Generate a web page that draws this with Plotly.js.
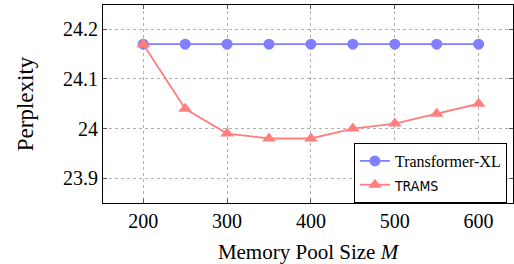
<!DOCTYPE html>
<html>
<head>
<meta charset="utf-8">
<script src="https://cdn.plot.ly/plotly-3.0.1.min.js"></script>
<style>html,body{margin:0;padding:0;background:#fff;}#chart{width:514px;height:264px;}</style>
</head>
<body>
<div id="chart"></div>
<script>
const memorySizes = [200, 250, 300, 350, 400, 450, 500, 550, 600];
const transformerXL = [24.17, 24.17, 24.17, 24.17, 24.17, 24.17, 24.17, 24.17, 24.17];
const trams = [24.17, 24.04, 23.99, 23.98, 23.98, 24.00, 24.01, 24.03, 24.05];
const xTicks = [200, 300, 400, 500, 600];
const yTicks = [23.9, 24.0, 24.1, 24.2];
const yTickLabels = ["23.9", "24", "24.1", "24.2"];

const serif = "Liberation Serif, DejaVu Serif, serif";
const traces = [
  {x: memorySizes, y: transformerXL, name: "Transformer-XL", mode: "lines+markers",
   line: {color: "#7f7fff", width: 1.8}, marker: {symbol: "circle", size: 11, color: "#7f7fff"}},
  {x: memorySizes, y: trams, name: '<span style="font-family:DejaVu Sans Condensed, Liberation Sans, sans-serif;font-size:14px">TRAMS</span>', mode: "lines+markers",
   line: {color: "#ff7f7f", width: 1.8}, marker: {symbol: "triangle-up", size: 12, color: "#ff7f7f"}}
];
const axisCommon = {
  showline: true, linecolor: "#000", linewidth: 1, mirror: "allticks",
  ticks: "inside", ticklen: 4, tickcolor: "#555", tickwidth: 1,
  showgrid: true, gridcolor: "#b0b0b0", griddash: "dot", gridwidth: 1,
  zeroline: false, tickfont: {family: serif, size: 20, color: "#000"}, automargin: false
};
const layout = {
  width: 514, height: 264,
  margin: {l: 103, r: 1, t: 5, b: 61, autoexpand: false},
  paper_bgcolor: "#fff", plot_bgcolor: "#fff",
  showlegend: true,
  xaxis: Object.assign({}, axisCommon, {range: [152, 641], tickvals: xTicks, ticktext: xTicks.map(String),
    title: {text: "Memory Pool Size <i>M</i>", font: {family: serif, size: 21, color: "#000"}, standoff: 16}}),
  yaxis: Object.assign({}, axisCommon, {range: [23.85, 24.249], tickvals: yTicks, ticktext: yTickLabels,
    title: {text: "Perplexity", font: {family: serif, size: 23, color: "#000"}, standoff: 22}}),
  legend: {x: 0.612, y: 0, xanchor: "left", yanchor: "bottom", bordercolor: "#000", borderwidth: 1,
    bgcolor: "#fff", font: {family: serif, size: 16, color: "#000"}, tracegroupgap: 0}
};
Plotly.newPlot("chart", traces, layout, {staticPlot: true, displayModeBar: false});
</script>
</body>
</html>
